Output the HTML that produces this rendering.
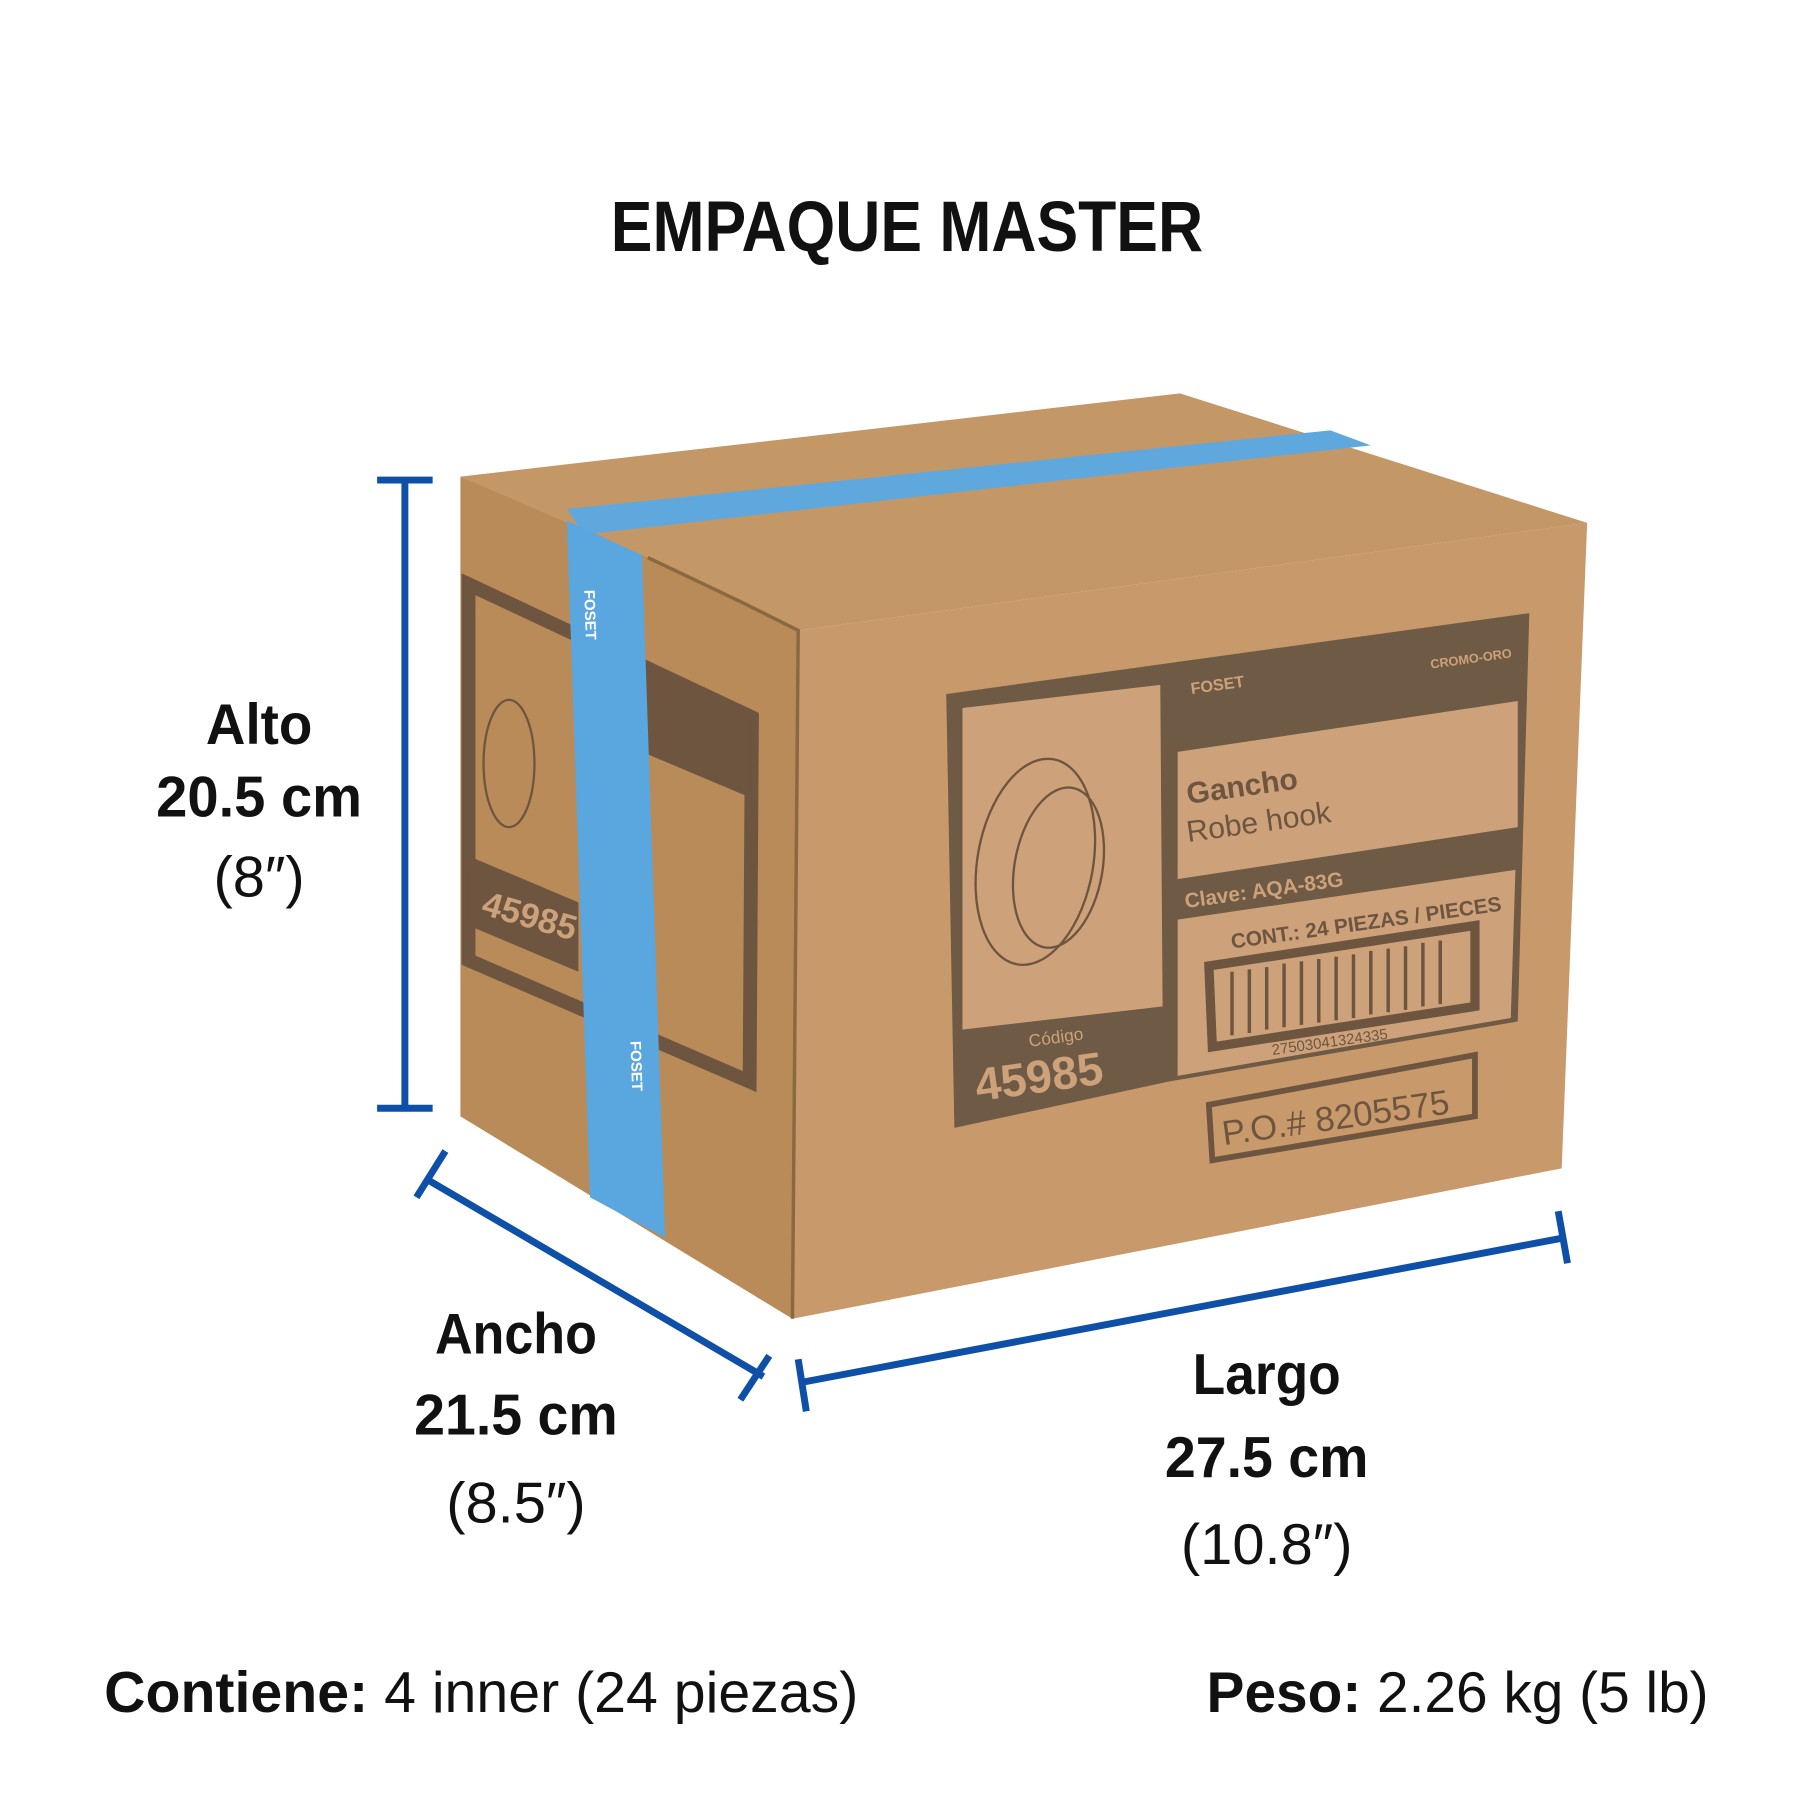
<!DOCTYPE html>
<html><head><meta charset="utf-8"><style>
html,body{margin:0;padding:0;background:#fff;}
svg{display:block;}
text{font-family:"Liberation Sans",sans-serif;}
</style></head><body>
<svg width="1800" height="1800" viewBox="0 0 1556 1556" xmlns="http://www.w3.org/2000/svg">
<rect width="1556" height="1556" fill="#fff"/>
<text x="528" y="217" font-size="62" font-weight="bold" fill="#111" textLength="512" lengthAdjust="spacingAndGlyphs">EMPAQUE MASTER</text>

<!-- box faces -->
<polygon points="398,412 1020,340 1372,452 690,545" fill="#c49766"/>
<polygon points="690,545 1372,452 1350,1010 685,1140" fill="#c8996a"/>
<polygon points="398,412 560,482 690,545 685,1140 398,965" fill="#b98b59"/>
<polyline points="560,482 640,520 690,545 685,1140" fill="none" stroke="#8a6840" stroke-width="3"/>

<!-- side label -->
<polygon points="405,505 650,620 648,935 405,830" fill="none" stroke="#6e5540" stroke-width="12"/>
<polygon points="555,575 650,620 650,690 555,650" fill="#6e5540"/>
<polygon points="405,740 500,780 500,840 405,800" fill="#6e5540"/>
<text x="0" y="0" font-size="30" font-weight="bold" fill="#cda27a" transform="translate(415,790) rotate(16)">45985</text>
<ellipse cx="440" cy="660" rx="22" ry="55" fill="none" stroke="#6e5540" stroke-width="2"/>

<!-- tape on top -->
<polygon points="490,440 1150,372 1185,385 505,462" fill="#5fa8de"/>
<!-- tape on side -->
<polygon points="490,450 555,480 575,1070 510,1035" fill="#5aa6de"/>
<text x="0" y="0" font-size="13" font-weight="bold" fill="#fff" transform="translate(505,510) rotate(88)">FOSET</text>
<text x="0" y="0" font-size="13" font-weight="bold" fill="#fff" transform="translate(545,900) rotate(88)">FOSET</text>

<!-- front label -->
<polygon points="818,600 1322,530 1312,883 1010,935 825,975" fill="#6e5a45"/>
<polygon points="832,612 1003,592 1005,870 832,890" fill="#cda27a"/>
<polygon points="1018,650 1312,606 1312,715 1018,760" fill="#cda27a"/>
<polygon points="1018,795 1310,752 1306,880 1018,930" fill="#cda27a"/>
<ellipse cx="895" cy="745" rx="50" ry="90" fill="none" stroke="#6e5540" stroke-width="2" transform="rotate(10 895 745)"/>
<ellipse cx="915" cy="750" rx="38" ry="70" fill="none" stroke="#6e5540" stroke-width="2" transform="rotate(10 915 750)"/>
<text x="1027" y="695" font-size="26" font-weight="bold" fill="#6e5540" transform="rotate(-8 1027 695)">Gancho</text>
<text x="1027" y="728" font-size="26" fill="#6e5540" transform="rotate(-8 1027 728)">Robe hook</text>
<text x="1025" y="785" font-size="18" font-weight="bold" fill="#cda27a" transform="rotate(-8 1025 785)">Clave: AQA-83G</text>
<text x="1237" y="578" font-size="11" font-weight="bold" fill="#cda27a" transform="rotate(-8 1237 578)">CROMO-ORO</text>
<text x="1030" y="600" font-size="14" font-weight="bold" fill="#cda27a" transform="rotate(-8 1030 600)">FOSET</text>
<text x="1065" y="820" font-size="18" font-weight="bold" fill="#6e5540" transform="rotate(-8 1065 820)">CONT.: 24 PIEZAS / PIECES</text>
<polygon points="1045,835 1275,800 1275,870 1048,905" fill="none" stroke="#6e5540" stroke-width="8"/>
<g stroke="#6e5540" stroke-width="3">
<line x1="1065" y1="840" x2="1065" y2="895"/><line x1="1080" y1="838" x2="1080" y2="893"/><line x1="1095" y1="836" x2="1095" y2="890"/><line x1="1110" y1="833" x2="1110" y2="888"/><line x1="1125" y1="831" x2="1125" y2="886"/><line x1="1140" y1="829" x2="1140" y2="884"/><line x1="1155" y1="827" x2="1155" y2="882"/><line x1="1170" y1="825" x2="1170" y2="880"/><line x1="1185" y1="822" x2="1185" y2="877"/><line x1="1200" y1="820" x2="1200" y2="875"/><line x1="1215" y1="818" x2="1215" y2="873"/><line x1="1230" y1="815" x2="1230" y2="870"/><line x1="1245" y1="813" x2="1245" y2="868"/>
</g>
<text x="1100" y="912" font-size="13" fill="#6e5540" transform="rotate(-8 1100 912)">27503041324335</text>
<text x="890" y="905" font-size="15" fill="#cda27a" transform="rotate(-8 890 905)">Código</text>
<text x="845" y="952" font-size="40" font-weight="bold" fill="#cda27a" transform="rotate(-8 845 952)">45985</text>
<polygon points="1045,955 1275,912 1275,965 1048,1003" fill="none" stroke="#6e5540" stroke-width="5"/>
<text x="1058" y="990" font-size="30" fill="#6e5540" transform="rotate(-8 1058 990)">P.O.#   8205575</text>

<!-- dimension lines -->
<g stroke="#0e4fa8" stroke-width="6" fill="none">
<line x1="350" y1="415" x2="350" y2="958"/><line x1="326" y1="415" x2="374" y2="415"/><line x1="326" y1="958" x2="374" y2="958"/>
<line x1="370" y1="1020" x2="660" y2="1190"/><line x1="360" y1="1035" x2="385" y2="995"/><line x1="640" y1="1210" x2="665" y2="1172"/>
<line x1="693" y1="1195" x2="1352" y2="1070"/><line x1="690" y1="1175" x2="697" y2="1220"/><line x1="1347" y1="1047" x2="1355" y2="1092"/>
</g>

<g font-size="50" font-weight="bold" fill="#111" text-anchor="middle">
<text x="224" y="643" textLength="92" lengthAdjust="spacingAndGlyphs">Alto</text>
<text x="224" y="706" textLength="178" lengthAdjust="spacingAndGlyphs">20.5 cm</text>
<text x="224" y="775" font-weight="normal">(8″)</text>
<text x="446" y="1170" textLength="140" lengthAdjust="spacingAndGlyphs">Ancho</text>
<text x="446" y="1240" textLength="176" lengthAdjust="spacingAndGlyphs">21.5 cm</text>
<text x="446" y="1316" font-weight="normal">(8.5″)</text>
<text x="1095" y="1205" textLength="128" lengthAdjust="spacingAndGlyphs">Largo</text>
<text x="1095" y="1277" textLength="176" lengthAdjust="spacingAndGlyphs">27.5 cm</text>
<text x="1095" y="1352" font-weight="normal">(10.8″)</text>
</g>
<text x="90" y="1480" font-size="50" fill="#111" textLength="652" lengthAdjust="spacingAndGlyphs"><tspan font-weight="bold">Contiene:</tspan> 4 inner (24 piezas)</text>
<text x="1043" y="1480" font-size="50" fill="#111" textLength="434" lengthAdjust="spacingAndGlyphs"><tspan font-weight="bold">Peso:</tspan> 2.26 kg (5 lb)</text>
</svg>
</body></html>
